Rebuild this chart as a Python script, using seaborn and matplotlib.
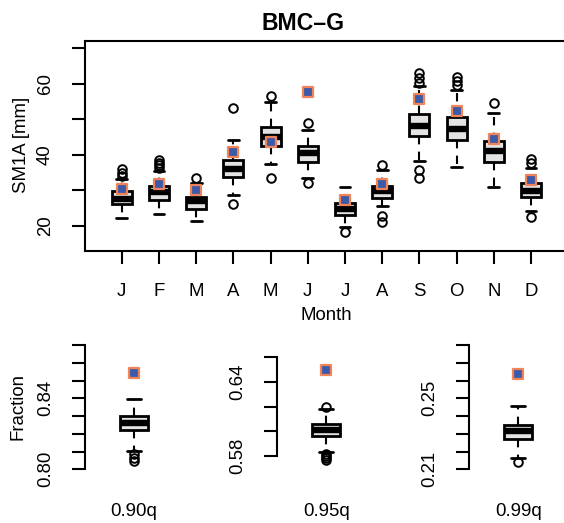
import matplotlib
matplotlib.use("Agg")
import matplotlib.pyplot as plt
import seaborn as sns

# Monthly SM1A simulation spread (box statistics, mm) and observed value
months = ["J", "F", "M", "A", "M", "J", "J", "A", "S", "O", "N", "D"]
q1 = [26.2, 27.3, 24.8, 33.9, 42.6, 38.1, 23.1, 27.9, 45.3, 44.2, 37.9, 28.2]
med = [27.6, 29.6, 27.0, 36.0, 45.1, 40.4, 24.7, 29.7, 48.0, 47.2, 41.2, 29.7]
q3 = [29.7, 31.1, 28.1, 38.5, 47.9, 42.5, 26.6, 31.3, 51.5, 50.6, 43.9, 32.0]
whis_lo = [22.2, 23.4, 21.4, 28.7, 37.5, 33.5, 19.7, 25.5, 38.3, 36.5, 31.0, 24.3]
whis_hi = [33.1, 35.4, 32.2, 44.2, 54.8, 47.0, 31.0, 35.6, 59.3, 58.3, 51.7, 36.2]
outliers = [
    [34.0, 35.0, 36.0],
    [36.3, 37.1, 37.8, 38.6],
    [33.6],
    [26.2, 53.1],
    [33.4, 56.4],
    [32.1, 48.9],
    [18.2],
    [21.1, 22.7, 37.0],
    [33.4, 35.7, 60.2, 61.5, 62.9],
    [59.6, 60.8, 61.9],
    [54.6],
    [22.6, 37.6, 38.7],
]
observed = [30.3, 31.8, 30.1, 40.9, 43.5, 57.6, 27.4, 31.9, 55.6, 52.4, 44.4, 33.0]

# Fraction of precipitation above the 0.90/0.95/0.99 quantiles
q_labels = ["0.90q", "0.95q", "0.99q"]
frac_q1 = [0.8221, 0.5965, 0.2270]
frac_med = [0.8258, 0.6011, 0.2316]
frac_q3 = [0.8300, 0.6057, 0.2352]
frac_lo = [0.8105, 0.5835, 0.2163]
frac_hi = [0.8394, 0.6179, 0.2456]
frac_outliers = [
    [0.8086, 0.8062, 0.8045],
    [0.6195, 0.5816, 0.5800, 0.5785, 0.5770],
    [0.2139],
]
frac_observed = [0.8545, 0.6497, 0.2637]
frac_ticks = [
    [0.80, 0.81, 0.82, 0.83, 0.84, 0.85, 0.86, 0.87],
    [0.58, 0.60, 0.62, 0.64, 0.66],
    [0.21, 0.22, 0.23, 0.24, 0.25, 0.26, 0.27, 0.28],
]
frac_ticklabels = [
    ["0.80", "", "", "", "0.84", "", "", ""],
    ["0.58", "", "", "0.64", ""],
    ["0.21", "", "", "", "0.25", "", "", ""],
]

sns.set_style("ticks")
plt.rcParams["font.family"] = ["Liberation Sans", "DejaVu Sans"]
plt.rcParams["axes.linewidth"] = 1.5
plt.rcParams["text.color"] = "black"
plt.rcParams["axes.labelcolor"] = "black"
plt.rcParams["axes.edgecolor"] = "black"
plt.rcParams["xtick.color"] = "black"
plt.rcParams["ytick.color"] = "black"

W, H = 564, 523
fig = plt.figure(figsize=(W / 100, H / 100), dpi=100)


def px_axes(left, top, right, bottom):
    return fig.add_axes([left / W, 1 - bottom / H, (right - left) / W, (bottom - top) / H])


def lim_from_ticks(v0, y0, v1, y1, top, bottom):
    per_px = (v1 - v0) / (y0 - y1)
    return v0 - (bottom - y0) * per_px, v1 + (y1 - top) * per_px


FS = 13.4
box_style = dict(
    patch_artist=True,
    boxprops=dict(facecolor="#E3E3E3", edgecolor="black", linewidth=2.0),
    medianprops=dict(color="black", linewidth=4.6, solid_capstyle="butt"),
    whiskerprops=dict(color="black", linewidth=1.5, linestyle=(0, (4, 3.5))),
    capprops=dict(color="black", linewidth=2.0),
    flierprops=dict(marker="o", markerfacecolor="none", markeredgecolor="black",
                    markersize=6.2, markeredgewidth=1.4),
)
obs_style = dict(marker="s", s=42, color="#3C5AA8", edgecolor="#F08458",
                 linewidth=1.6, zorder=6, legend=False)


def box_stats(i, lo, a, m, b, hi, fl):
    return dict(whislo=lo[i], q1=a[i], med=m[i], q3=b[i], whishi=hi[i], fliers=fl[i])


# ---- monthly panel ----
ax = px_axes(85, 41, 567.5, 250.7)
pos = list(range(1, len(months) + 1))
stats = [box_stats(i, whis_lo, q1, med, q3, whis_hi, outliers) for i in range(len(months))]
ax.bxp(stats, positions=pos, widths=0.54, capwidths=0.29, **box_style)
sns.scatterplot(x=pos, y=observed, ax=ax, **obs_style)
ax.set_xlim(0.013, 12.98)
ax.set_ylim(13.06, 71.97)
ax.set_xticks(pos)
ax.set_xticklabels(months)
ax.set_yticks([20, 30, 40, 50, 60, 70])
ax.set_yticklabels(["20", "", "40", "", "60", ""])
ax.tick_params(axis="both", direction="out", length=9.4, width=1.5, labelsize=FS,
               color="black", labelcolor="black")
ax.tick_params(axis="y", pad=13.0)
ax.tick_params(axis="x", pad=13.5)
for lab in ax.get_yticklabels():
    lab.set_rotation(90)
    lab.set_va("center")
ax.set_xlabel("")
ax.set_ylabel("")
for s in ax.spines.values():
    s.set_color("black")
    s.set_linewidth(1.5)

fig.text(303 / W, 1 - 23.5 / H, "BMC–G", ha="center", va="center",
         fontsize=16.6, fontweight="bold", color="black")
fig.text(326 / W, 1 - 315 / H, "Month", ha="center", va="center", fontsize=FS,
         color="black")
fig.text(21.5 / W, 1 - 145 / H, "SM1A [mm]", ha="center", va="center",
         rotation=90, fontsize=FS, color="black")

# ---- quantile fraction panels ----
axis_x = [85, 277.3, 469.3]
tick_px = [(469.3, 345.0), (456.0, 357.3), (469.3, 345.0)]
for k in range(len(q_labels)):
    bx = px_axes(axis_x[k], 340, axis_x[k] + 98, 475)
    st = [box_stats(k, frac_lo, frac_q1, frac_med, frac_q3, frac_hi, frac_outliers)]
    bx.bxp(st, positions=[1], widths=0.31, capwidths=0.155, **box_style)
    sns.scatterplot(x=[1], y=[frac_observed[k]], ax=bx, **obs_style)
    ticks = frac_ticks[k]
    y0, y1 = tick_px[k]
    bx.set_ylim(*lim_from_ticks(ticks[0], y0, ticks[-1], y1, 340, 475))
    bx.set_xlim(0.46, 1.54)
    bx.set_yticks(ticks)
    bx.set_yticklabels(frac_ticklabels[k])
    bx.set_xticks([])
    bx.set_xlabel("")
    bx.set_ylabel("")
    sns.despine(ax=bx, bottom=True)
    bx.spines["left"].set_bounds(ticks[0], ticks[-1])
    bx.spines["left"].set_linewidth(1.5)
    bx.spines["left"].set_color("black")
    bx.tick_params(axis="y", direction="out", length=9.4, width=1.5, labelsize=FS,
                   pad=13.0, color="black", labelcolor="black")
    for lab in bx.get_yticklabels():
        lab.set_rotation(90)
        lab.set_va("center")
    fig.text((axis_x[k] + 49) / W, 1 - 511 / H, q_labels[k], ha="center",
             va="center", fontsize=FS, color="black")

fig.text(18 / W, 1 - 406.5 / H, "Fraction", ha="center", va="center",
         rotation=90, fontsize=FS, color="black")

fig.savefig("out.png", dpi=100)
